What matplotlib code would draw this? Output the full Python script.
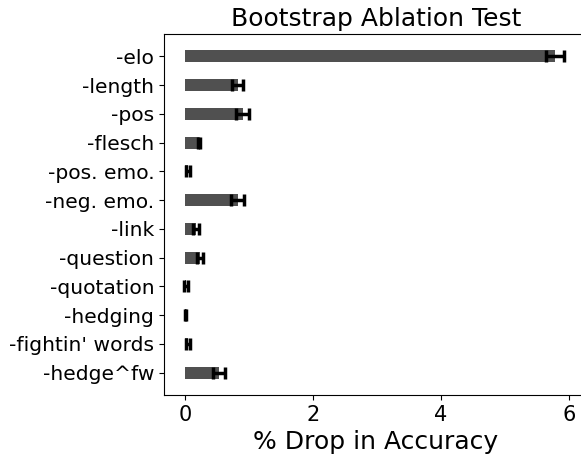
import matplotlib
matplotlib.use('Agg')
import matplotlib.pyplot as plt
import numpy as np

features = ['-elo', '-length', '-pos', '-flesch', '-pos. emo.', '-neg. emo.',
            '-link', '-question', '-quotation', '-hedging', "-fightin' words",
            '-hedge^fw']
drop = [5.78, 0.82, 0.90, 0.22, 0.05, 0.82, 0.17, 0.23, 0.02, 0.01, 0.05, 0.53]
err = [0.14, 0.09, 0.10, 0.02, 0.03, 0.10, 0.05, 0.05, 0.03, 0.01, 0.03, 0.09]

fig = plt.figure(figsize=(5.81, 4.57), dpi=100)
ax = fig.add_axes([164 / 581, 62 / 457, 424 / 581, 361 / 457])

y = np.arange(len(features))
ax.barh(y, drop, height=0.42, color='#505050',
        xerr=err, error_kw=dict(ecolor='black', elinewidth=2.5, capsize=4, capthick=2.5))
ax.set_yticks(y)
ax.set_yticklabels(features, fontsize=14.6)
ax.invert_yaxis()
ax.set_xlim(-0.33, 6.3)
ax.set_xticks([0, 2, 4, 6])
ax.tick_params(axis='x', labelsize=15)
ax.set_xlabel('% Drop in Accuracy', fontsize=18)
ax.set_title('Bootstrap Ablation Test', fontsize=18)
# the reference is cropped just before the right edge of the axes
ax.spines['right'].set_visible(False)

fig.savefig('out.png', dpi=100)
